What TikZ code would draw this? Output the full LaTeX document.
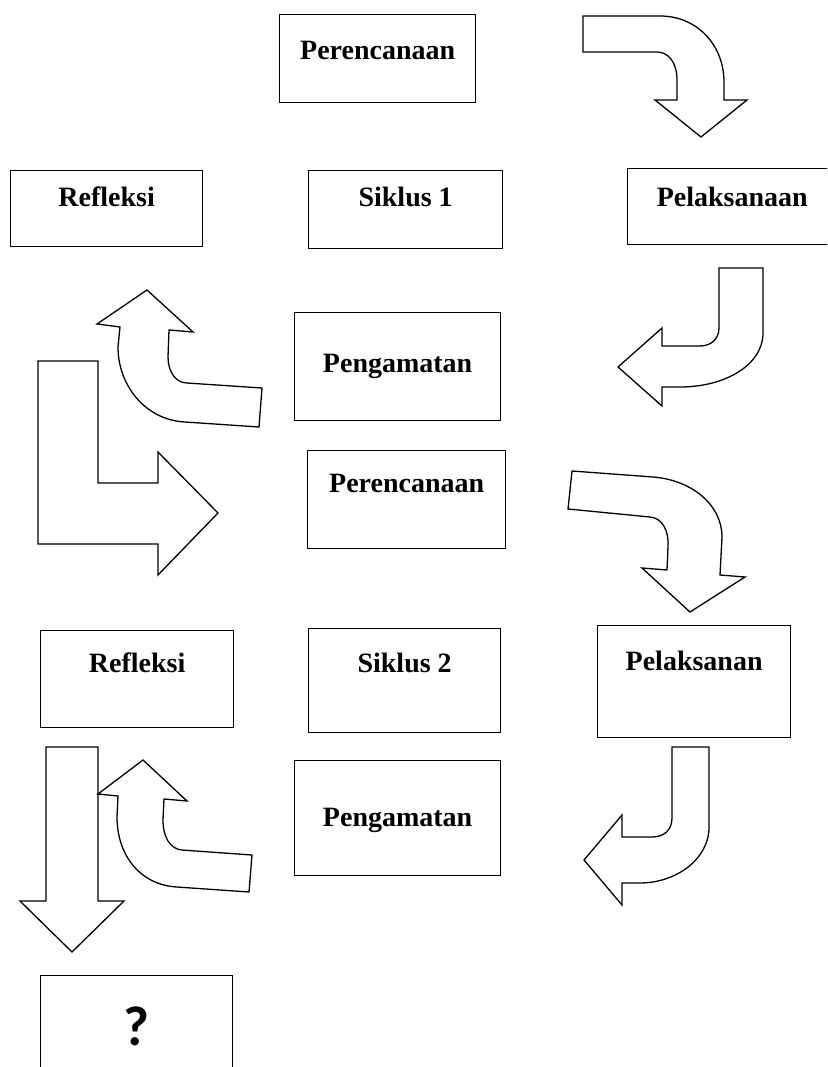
\documentclass[tikz,border=0pt]{standalone}
\usepackage{fontspec}
\setmainfont{Liberation Serif}
\newfontfamily\tanyafont{Carlito}
\begin{document}
\begin{tikzpicture}[x=1pt, y=-1pt, line width=1.3pt,
  kotak/.style={rectangle, draw=black, anchor=north west, inner sep=0pt},
  judul/.style={font=\fontsize{28}{32}\selectfont\bfseries, anchor=base, inner sep=0pt},
  panah/.style={draw=black, fill=white, line join=miter}]
\useasboundingbox (0,0) rectangle (827,1067);
\clip (0,0) rectangle (827,1067);

% Siklus 1
\node (renc1) [kotak, minimum width=196pt, minimum height=88pt] at (279,14) {};
\node (trenc1) [judul] at ([yshift=-46pt]renc1.north) {Perencanaan};

\node (refl1) [kotak, minimum width=192pt, minimum height=76pt] at (10,170) {};
\node (trefl1) [judul] at ([yshift=-37pt]refl1.north) {Refleksi};

\node (sik1) [kotak, minimum width=194pt, minimum height=78pt] at (308,170) {};
\node (tsik1) [judul] at ([yshift=-37pt]sik1.north) {Siklus 1};

\node (pel1) [kotak, minimum width=208pt, minimum height=76pt] at (627,168) {};
\node (tpel1) [judul] at ([xshift=-104pt, yshift=-39pt]pel1.north east) {Pelaksanaan};

\node (amat1) [kotak, minimum width=206pt, minimum height=108pt] at (294,312) {};
\node (tamat1) [judul] at ([yshift=-60pt]amat1.north) {Pengamatan};

% Siklus 2
\node (renc2) [kotak, minimum width=198pt, minimum height=98pt] at (307,450) {};
\node (trenc2) [judul] at ([yshift=-42pt]renc2.north) {Perencanaan};

\node (refl2) [kotak, minimum width=193pt, minimum height=97pt] at (40,630) {};
\node (trefl2) [judul] at ([yshift=-42pt]refl2.north) {Refleksi};

\node (sik2) [kotak, minimum width=192pt, minimum height=104pt] at (308,628) {};
\node (tsik2) [judul] at ([yshift=-44pt]sik2.north) {Siklus 2};

\node (pel2) [kotak, minimum width=193pt, minimum height=112pt] at (597,625) {};
\node (tpel2) [judul] at ([yshift=-45pt]pel2.north) {Pelaksanan};

\node (amat2) [kotak, minimum width=206pt, minimum height=115pt] at (294,760) {};
\node (tamat2) [judul] at ([yshift=-66pt]amat2.north) {Pengamatan};

\node (akhir) [kotak, minimum width=192pt, minimum height=100pt] at (40,975) {};
\node (takhir) [anchor=base, inner sep=0pt, font=\tanyafont\fontsize{56}{60}\selectfont\bfseries] at ([yshift=-70pt]akhir.north) {?};

% Panah siklus 1
\draw[panah] (583,16) -- (660,16) .. controls (697,16) and (724,45) .. (724,82) -- (724,100)
  -- (747,100) -- (701,137) -- (655,100) -- (677,100) -- (677,80)
  .. controls (677,62) and (668,52) .. (657,52) -- (583,52) -- cycle;
\draw[panah] (719,268) -- (763,268) -- (763,333) .. controls (763,365) and (725,387) .. (680,387)
  -- (662,387) -- (662,406) -- (618,367) -- (662,328) -- (662,346) -- (700,346)
  .. controls (712,346) and (719,338) .. (719,328) -- cycle;
\draw[panah] (262,388) -- (259,427) -- (185,422) .. controls (145,420) and (118,385) .. (118,347)
  -- (120,327) -- (97,324) -- (147,290) -- (193,332) -- (169,330) -- (168,357)
  .. controls (168,372) and (176,383) .. (187,383) -- cycle;
\draw[panah] (38,361) -- (98,361) -- (98,483) -- (158,483) -- (158,452) -- (218,513)
  -- (158,575) -- (158,544) -- (38,544) -- cycle;

% Panah siklus 2
\draw[panah] (572,471) -- (653,477) .. controls (692,480) and (722,505) .. (722,537) -- (720,575)
  -- (745,577) -- (690,612) -- (642,568) -- (667,570) -- (668,547)
  .. controls (669,530) and (662,518) .. (650,517) -- (568,509) -- cycle;
\draw[panah] (672,747) -- (709,747) -- (709,827) .. controls (709,860) and (675,883) .. (640,883)
  -- (622,883) -- (622,905) -- (584,860) -- (622,815) -- (622,837) -- (652,837)
  .. controls (664,837) and (672,830) .. (672,818) -- cycle;
\draw[panah] (46,747) -- (98,747) -- (98,901) -- (124,901) -- (72,952) -- (20,901) -- (46,901) -- cycle;
\draw[panah] (252,855) -- (249,892) -- (177,887) .. controls (140,885) and (117,855) .. (117,817)
  -- (118,796) -- (98,794) -- (143,760) -- (187,801) -- (164,799) -- (163,820)
  .. controls (163,837) and (170,849) .. (182,850) -- cycle;

\end{tikzpicture}
\end{document}
